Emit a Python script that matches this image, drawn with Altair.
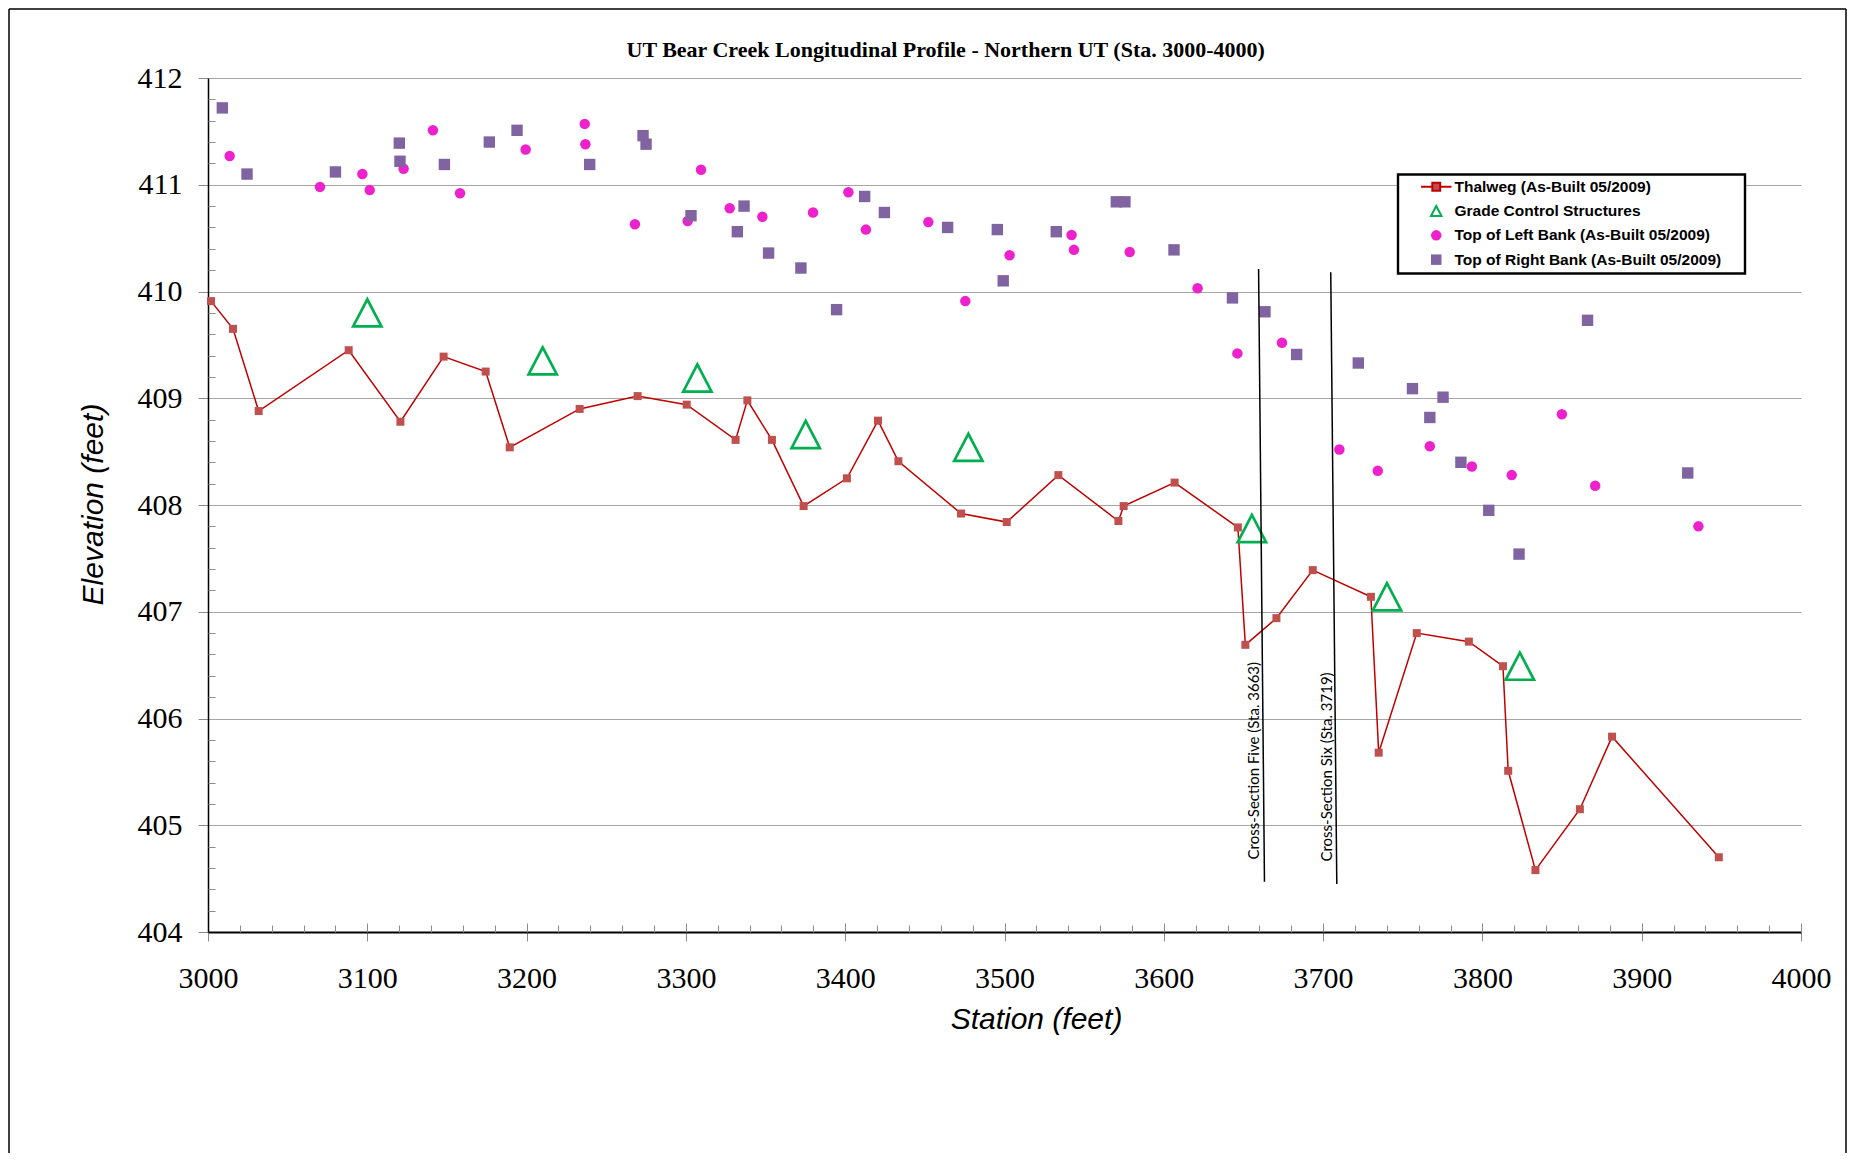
import altair as alt
import pandas as pd

TITLE = "UT Bear Creek Longitudinal Profile - Northern UT (Sta. 3000-4000)"
SERIES = ["Thalweg (As-Built 05/2009)", "Grade Control Structures",
          "Top of Left Bank (As-Built 05/2009)", "Top of Right Bank (As-Built 05/2009)"]

thalweg_sta = [3001.9, 3015.7, 3031.8, 3088.3, 3120.8, 3147.9, 3174.3, 3189.4, 3233.3, 3269.7,
               3300.5, 3331.2, 3338.6, 3354.0, 3373.9, 3401.1, 3420.6, 3433.4, 3472.7, 3501.4,
               3533.8, 3571.5, 3574.8, 3606.8, 3646.5, 3651.2, 3670.7, 3693.5, 3730.0, 3734.9,
               3758.8, 3791.5, 3812.9, 3816.2, 3833.3, 3861.2, 3881.4, 3948.4]
thalweg_elev = [409.91, 409.65, 408.88, 409.45, 408.78, 409.39, 409.25, 408.54, 408.90, 409.02,
                408.94, 408.61, 408.98, 408.61, 407.99, 408.25, 408.79, 408.41, 407.92, 407.84,
                408.28, 407.85, 407.99, 408.21, 407.79, 406.69, 406.94, 407.39, 407.14, 405.68,
                406.80, 406.72, 406.49, 405.51, 404.58, 405.15, 405.83, 404.70]

gcs_sta = [3100.0, 3210.1, 3307.2, 3375.2, 3477.3, 3655.3, 3740.1, 3823.5]
gcs_elev = [409.80, 409.35, 409.19, 408.66, 408.54, 407.78, 407.14, 406.49]

left_sta = [3013.6, 3070.3, 3096.9, 3101.5, 3122.8, 3141.2, 3158.2, 3199.4, 3236.5, 3236.9,
            3268.0, 3301.1, 3309.5, 3327.5, 3348.0, 3379.8, 3402.0, 3413.0, 3452.2, 3475.4,
            3503.2, 3542.1, 3543.6, 3578.6, 3621.2, 3646.2, 3674.2, 3710.2, 3734.3, 3767.0,
            3793.4, 3818.4, 3849.9, 3870.8, 3935.6]
left_elev = [411.27, 410.98, 411.10, 410.95, 411.15, 411.51, 410.92, 411.33, 411.57, 411.38,
             410.63, 410.66, 411.14, 410.78, 410.70, 410.74, 410.93, 410.58, 410.65, 409.91,
             410.34, 410.53, 410.39, 410.37, 410.03, 409.42, 409.52, 408.52, 408.32, 408.55,
             408.36, 408.28, 408.85, 408.18, 407.80]

right_sta = [3009.0, 3024.5, 3080.0, 3120.1, 3120.5, 3148.4, 3176.6, 3194.0, 3239.6, 3273.1,
             3275.0, 3303.2, 3332.3, 3336.5, 3351.9, 3372.2, 3394.6, 3412.2, 3424.6, 3464.3,
             3495.5, 3499.2, 3532.5, 3570.2, 3575.6, 3606.4, 3643.1, 3663.5, 3683.4, 3722.1,
             3756.1, 3767.0, 3775.3, 3786.5, 3804.0, 3823.0, 3866.0, 3928.9]
right_elev = [411.72, 411.10, 411.12, 411.39, 411.22, 411.19, 411.40, 411.51, 411.19, 411.46,
              411.38, 410.71, 410.56, 410.80, 410.36, 410.22, 409.83, 410.89, 410.74, 410.60,
              410.58, 410.10, 410.56, 410.84, 410.84, 410.39, 409.94, 409.81, 409.41, 409.33,
              409.09, 408.82, 409.01, 408.40, 407.95, 407.54, 409.73, 408.30]

xs_labels = ["Cross-Section Five (Sta. 3663)", "Cross-Section Six (Sta. 3719)"]
xs_top_sta = [3659.5, 3704.8]
xs_top_elev = [410.21, 410.18]
xs_bot_sta = [3663.2, 3708.6]
xs_bot_elev = [404.47, 404.45]
xs_label_sta = [3659.5, 3705.3]
xs_label_elev = [404.68, 404.66]

x_ticks = list(range(3000, 4001, 100))
x_minor = [v for v in range(3020, 4000, 20) if v % 100]
y_ticks = list(range(404, 413))
y_grid = list(range(405, 413))
y_minor = [round(404 + 0.2 * i, 1) for i in range(1, 40) if i % 5]

W, H = 1593, 854
SERIF = "Liberation Serif, Times New Roman, serif"
SANS = "Liberation Sans, Arial, sans-serif"

thal_df = pd.DataFrame({"station": thalweg_sta, "elev": thalweg_elev})
gcs_df = pd.DataFrame({"station": gcs_sta, "elev": gcs_elev, "series": SERIES[1]})
left_df = pd.DataFrame({"station": left_sta, "elev": left_elev, "series": SERIES[2]})
right_df = pd.DataFrame({"station": right_sta, "elev": right_elev, "series": SERIES[3]})
xs_df = pd.DataFrame({"s1": xs_top_sta, "e1": xs_top_elev, "s2": xs_bot_sta, "e2": xs_bot_elev,
                      "ls": xs_label_sta, "le": xs_label_elev, "label": xs_labels})
one = pd.DataFrame({"t": [TITLE]})

xscale = alt.Scale(domain=[3000, 4000], nice=False, zero=False)
yscale = alt.Scale(domain=[404, 412], nice=False, zero=False)

TICK = "#8c8c8c"
x_main = alt.Axis(orient="bottom", values=x_ticks, format="d", tickSize=9, tickColor=TICK,
                  tickWidth=1, domainColor="black", domainWidth=2, labelFont=SERIF,
                  labelFontSize=30, labelColor="black", labelPadding=22, labelFlush=False,
                  labelOverlap=False, grid=False, title="Station (feet)",
                  titleFont=SANS, titleFontSize=30, titleFontStyle="italic",
                  titleFontWeight="normal", titleColor="black", titleX=828, titleY=87,
                  titleBaseline="middle")
x_inner = alt.Axis(orient="bottom", values=x_ticks, tickSize=9, tickColor=TICK, offset=-9,
                   labels=False, domain=False, grid=False, title=None)
x_minor_ax = alt.Axis(orient="bottom", values=x_minor, tickSize=7, tickColor=TICK, offset=-7,
                      labels=False, domain=False, grid=False, title=None)
y_main = alt.Axis(orient="left", values=y_ticks, format="d", tickSize=10, tickColor=TICK,
                  domainColor="black", domainWidth=1.5, labelFont=SERIF,
                  labelFontSize=30, labelColor="black", labelPadding=16, labelFlush=False,
                  labelOverlap=False, grid=False, title="Elevation (feet)",
                  titleFont=SANS, titleFontSize=30, titleFontStyle="italic",
                  titleFontWeight="normal", titleColor="black", titleAngle=270,
                  titleX=-114.5, titleY=426, titleBaseline="middle")
y_gridax = alt.Axis(orient="left", values=y_grid, grid=True, gridColor="#a6a6a6", gridWidth=1,
                    ticks=False, labels=False, domain=False, title=None)
y_minor_ax = alt.Axis(orient="left", values=y_minor, tickSize=7, tickColor=TICK, offset=-7,
                      labels=False, domain=False, grid=False, title=None)

thal_path = "M-2.9,0H-0.75M0.75,0H2.9M-0.75,-0.75H0.75V0.75H-0.75Z"
tri_path = "M0,-0.96L-1,0.96L1,0.96Z"
fill_scale = alt.Scale(domain=SERIES, range=["#C0504D", "transparent", "#EE22CC", "#8064A2"])
stroke_scale = alt.Scale(domain=SERIES, range=["#C00000", "#00B050", "transparent", "transparent"])
shape_scale = alt.Scale(domain=SERIES, range=[thal_path, tri_path, "circle", "square"])
leg = alt.Legend(title="\u00a0", titleOrient="right", titlePadding=19, titleFontSize=15.5,
                 orient="none", legendX=1190, legendY=96.5)


def legend_enc():
    return dict(
        fill=alt.Fill("series:N", scale=fill_scale, legend=leg),
        stroke=alt.Stroke("series:N", scale=stroke_scale, legend=leg),
        shape=alt.Shape("series:N", scale=shape_scale, legend=leg),
    )


line = alt.Chart(thal_df).mark_line(color="#C00000", strokeWidth=1.5).encode(
    x=alt.X("station:Q", scale=xscale, axis=x_main),
    y=alt.Y("elev:Q", scale=yscale, axis=y_main),
)
tsq = alt.Chart(thal_df).mark_point(shape="square", filled=True, size=64, color="#C0504D",
                                    opacity=1).encode(
    x=alt.X("station:Q", scale=xscale, axis=x_inner),
    y=alt.Y("elev:Q", scale=yscale, axis=y_gridax),
)
gcs = alt.Chart(gcs_df).mark_point(filled=True, size=800, strokeWidth=2.7, opacity=1).encode(
    x=alt.X("station:Q", scale=xscale, axis=x_minor_ax),
    y=alt.Y("elev:Q", scale=yscale, axis=y_minor_ax),
    **legend_enc(),
)
lb = alt.Chart(left_df).mark_point(filled=True, size=110, strokeWidth=2, opacity=1).encode(
    x=alt.X("station:Q", scale=xscale, axis=None),
    y=alt.Y("elev:Q", scale=yscale, axis=None),
    **legend_enc(),
)
rb = alt.Chart(right_df).mark_point(filled=True, size=130, strokeWidth=2, opacity=1).encode(
    x=alt.X("station:Q", scale=xscale, axis=None),
    y=alt.Y("elev:Q", scale=yscale, axis=None),
    **legend_enc(),
)
xs = alt.Chart(xs_df).mark_rule(color="black", strokeWidth=1.5).encode(
    x=alt.X("s1:Q", scale=xscale, axis=None), x2="s2:Q",
    y=alt.Y("e1:Q", scale=yscale, axis=None), y2="e2:Q",
)
xs_lab = alt.Chart(xs_df).mark_text(angle=270, align="left", baseline="alphabetic", font="Lato",
                                    fontSize=15, color="black").encode(
    x=alt.X("ls:Q", scale=xscale, axis=None),
    y=alt.Y("le:Q", scale=yscale, axis=None),
    text="label:N",
)
title = alt.Chart(one).mark_text(font=SERIF, fontWeight="bold", fontSize=22,
                                 align="center", baseline="middle", color="black").encode(
    x=alt.value(737.7), y=alt.value(-28), text="t:N")
frame_l = alt.Chart(one).mark_rule(color="black", strokeWidth=1.5).encode(
    x=alt.value(-199), y=alt.value(-69), y2=alt.value(1075))
frame_t = alt.Chart(one).mark_rule(color="black", strokeWidth=1.5).encode(
    x=alt.value(-199), x2=alt.value(1638), y=alt.value(-69))
frame_r = alt.Chart(one).mark_rule(color="black", strokeWidth=1.5).encode(
    x=alt.value(1638), y=alt.value(-69), y2=alt.value(1075))

chart = alt.layer(line, tsq, gcs, lb, rb, xs, xs_lab, title, frame_l, frame_t, frame_r).resolve_axis(
    x="independent", y="independent"
).properties(width=W, height=H, padding=0, background="white").configure_view(
    stroke=None
).configure_axis(
    labelFont=SERIF
).configure_legend(
    strokeColor="black", strokeWidth=2.4, fillColor="white", padding=4.5,
    labelFont=SANS, labelFontWeight="bold", labelFontSize=15.5, labelColor="black",
    symbolSize=110, symbolStrokeWidth=2, symbolOffset=26, labelOffset=10.5, rowPadding=5.3,
    labelLimit=0,
)

chart.save("out.html", embed_options={"renderer": "svg", "actions": False})
